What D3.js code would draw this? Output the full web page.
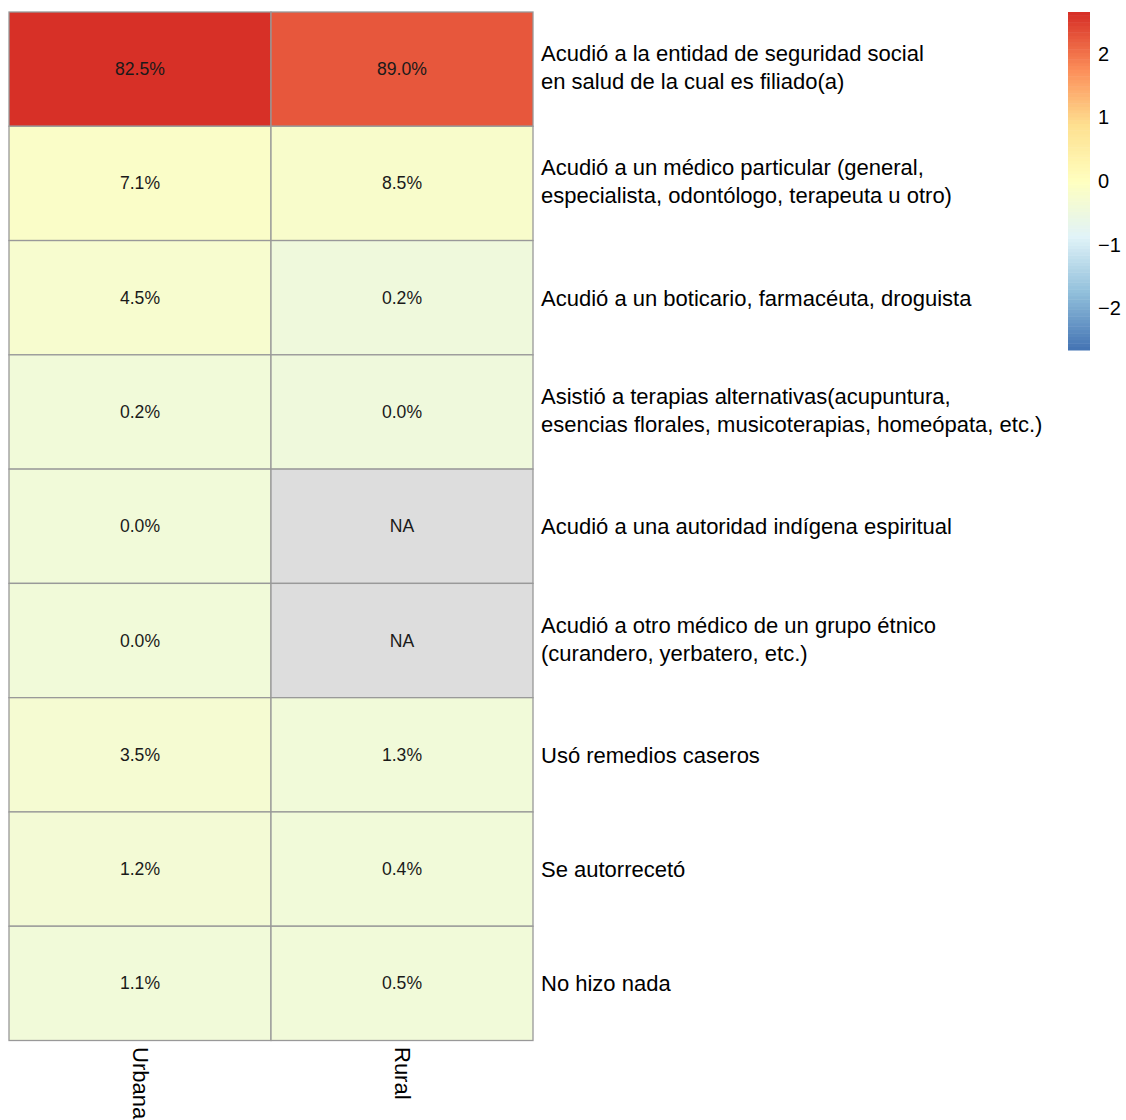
<!DOCTYPE html>
<html><head><meta charset="utf-8">
<script src="https://cdn.jsdelivr.net/npm/d3@7"></script>
<style>
html,body{margin:0;padding:0;background:#fff;}
text{font-family:"Liberation Sans",Arial,sans-serif;}
</style></head>
<body>
<svg id="chart" width="1126" height="1120"></svg>
<script>
// ---- data ----
const columns = ["Urbana", "Rural"];
const rowLabels = [
  "Acudió a la entidad de seguridad social\nen salud de la cual es filiado(a)",
  "Acudió a un médico particular (general,\nespecialista, odontólogo, terapeuta u otro)",
  "Acudió a un boticario, farmacéuta, droguista",
  "Asistió a terapias alternativas(acupuntura,\nesencias florales, musicoterapias, homeópata, etc.)",
  "Acudió a una autoridad indígena espiritual",
  "Acudió a otro médico de un grupo étnico\n(curandero, yerbatero, etc.)",
  "Usó remedios caseros",
  "Se autorrecetó",
  "No hizo nada"
];
const urbana = [82.5, 7.1, 4.5, 0.2, 0.0, 0.0, 3.5, 1.2, 1.1];
const rural  = [89.0, 8.5, 0.2, 0.0, null, null, 1.3, 0.4, 0.5];
const legendTicks = [2, 1, 0, -1, -2];
const paletteColors = ["#4575B4", "#91BFDB", "#E0F3F8", "#FFFFBF", "#FEE090", "#FC8D59", "#D73027"];

// ---- column z-scores (pheatmap scale = "column") ----
function zscores(arr) {
  const v = arr.filter(d => d !== null);
  const m = d3.mean(v), s = d3.deviation(v);
  return arr.map(d => d === null ? null : (d - m) / s);
}
const series = [urbana, rural];
const zs = series.map(zscores);
const maxAbs = d3.max(zs.flat().filter(d => d !== null).map(Math.abs));

const ramp = d3.scaleLinear()
  .domain(d3.range(paletteColors.length).map(i => i / (paletteColors.length - 1)))
  .range(paletteColors)
  .interpolate(d3.interpolateRgb);
const nColors = 100;
const binColors = d3.range(nColors).map(i => ramp(i / (nColors - 1)));
function colorFor(z) {
  if (z === null) return "#DDDDDD";
  let b = Math.floor((z + maxAbs) / (2 * maxAbs) * nColors);
  b = Math.max(0, Math.min(nColors - 1, b));
  return binColors[b];
}

// ---- layout ----
const svg = d3.select("#chart");
const x = d3.scaleBand().domain(columns).range([9, 533]);
const y = d3.scaleBand().domain(d3.range(rowLabels.length)).range([12, 1040.5]);

const cells = [];
columns.forEach((c, ci) => {
  series[ci].forEach((v, ri) => cells.push({col: c, row: ri, v: v, z: zs[ci][ri]}));
});

svg.append("g").selectAll("rect").data(cells).join("rect")
  .attr("x", d => x(d.col))
  .attr("y", d => y(d.row))
  .attr("width", x.bandwidth())
  .attr("height", y.bandwidth())
  .attr("fill", d => colorFor(d.z))
  .attr("stroke", "#999999")
  .attr("stroke-width", 1.3);

svg.append("g").selectAll("text").data(cells).join("text")
  .attr("x", d => x(d.col) + x.bandwidth() / 2)
  .attr("y", d => y(d.row) + y.bandwidth() / 2)
  .attr("text-anchor", "middle")
  .attr("dominant-baseline", "central")
  .attr("font-size", "17.6px")
  .attr("fill", "#1a1a1a")
  .text(d => d.v === null ? "NA" : d3.format(".1f")(d.v) + "%");

// row labels
const lineH = 28;
svg.append("g").selectAll("text").data(rowLabels).join("text")
  .attr("font-size", "22px")
  .attr("fill", "#000")
  .attr("dominant-baseline", "central")
  .each(function(d, i) {
    const lines = d.split("\n");
    const cy = y(i) + y.bandwidth() / 2 - (lines.length > 1 ? 2 : 0);
    const t = d3.select(this);
    lines.forEach((ln, k) => {
      t.append("tspan")
        .attr("x", 541)
        .attr("y", cy + (k - (lines.length - 1) / 2) * lineH)
        .text(ln);
    });
  });

// column labels
svg.append("g").selectAll("text").data(columns).join("text")
  .attr("transform", d => `translate(${x(d) + x.bandwidth() / 2},1047) rotate(90)`)
  .attr("font-size", "22px")
  .attr("dominant-baseline", "central")
  .attr("text-anchor", "start")
  .text(d => d);

// legend
const ly = d3.scaleLinear().domain([-maxAbs, maxAbs]).range([350, 12]);
const lg = svg.append("g");
const step = (2 * maxAbs) / nColors;
lg.selectAll("rect").data(d3.range(nColors)).join("rect")
  .attr("x", 1068)
  .attr("width", 22)
  .attr("y", i => ly(-maxAbs + (i + 1) * step))
  .attr("height", i => ly(-maxAbs + i * step) - ly(-maxAbs + (i + 1) * step) + 0.5)
  .attr("fill", i => binColors[i]);
lg.selectAll("text").data(legendTicks).join("text")
  .attr("x", 1098)
  .attr("y", d => ly(d))
  .attr("dominant-baseline", "central")
  .attr("font-size", "20px")
  .text(d => d < 0 ? "\u2212" + Math.abs(d) : String(d));
</script>
</body></html>
